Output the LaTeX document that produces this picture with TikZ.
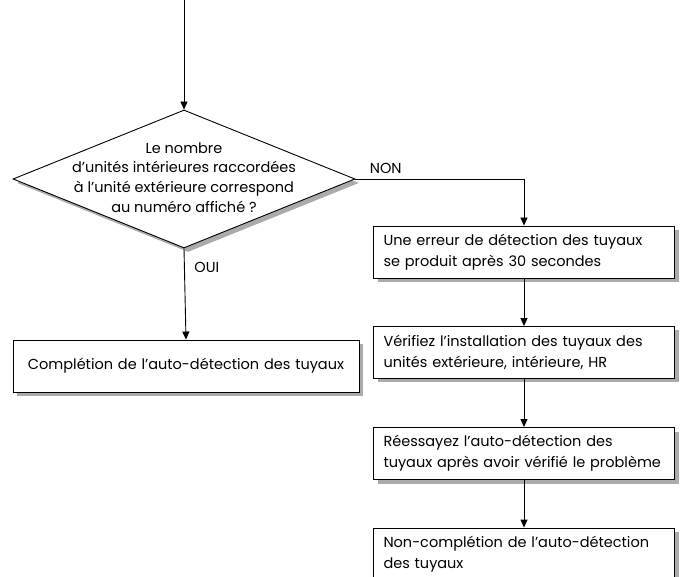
\documentclass[tikz,border=0pt]{standalone}
\usepackage{fontspec}
\setmainfont{Poppins}
\usetikzlibrary{arrows.meta,shapes.geometric}

\tikzset{
  flow/.style={line width=0.9pt,-{Triangle[width=7pt,length=8pt]}},
  boxshadow/.style={preaction={fill=black!33,transform canvas={xshift=4pt,yshift=-4pt}}},
  stepbox/.style={draw,line width=0.9pt,fill=white,boxshadow,rectangle,minimum height=52pt,
    inner xsep=10pt,font=\fontsize{14.5}{21}\selectfont},
  rightbox/.style={stepbox,minimum width=301pt,text width=281pt,align=left},
  decision/.style={draw,line width=0.9pt,fill=white,boxshadow,diamond,
    minimum width=342pt,minimum height=138pt,inner sep=0pt},
  lbl/.style={font=\fontsize{14.5}{19.8}\selectfont,inner sep=0pt}
}

\begin{document}
\begin{tikzpicture}[x=1pt,y=-1pt]
\useasboundingbox (0,0) rectangle (683,577);

%Shape: Diamond
\node[decision] (check) at (184,179) {};
\node[lbl,align=center] (checktxt) at (184,177.5) {Le nombre\\d’unités intérieures raccordées\\à l’unité extérieure correspond\\au numéro affiché ?};

%Shape: Boxes
\node[stepbox,minimum width=346pt,text width=326pt,align=center] (done) at (186,366) {Complétion de l’auto-détection des tuyaux};
\node[rightbox] (error) at (524,252) {Une erreur de détection des tuyaux\\se produit après 30 secondes};
\node[rightbox] (verify) at (524,352.5) {Vérifiez l’installation des tuyaux des\\unités extérieure, intérieure, HR};
\node[rightbox] (retry) at (524,453.5) {Réessayez l’auto-détection des\\tuyaux après avoir vérifié le problème};
\node[rightbox] (fail) at (524,554) {Non-complétion de l’auto-détection\\des tuyaux};

\coordinate (entry) at (184,0);

%Straight Lines
\draw[flow] (entry) -- (check.north);
\draw[flow] (check.south) -- node[lbl,anchor=north west,pos=0,xshift=10pt,yshift=-13pt] {OUI} (done.north);
\draw[flow] (check.east) -| node[lbl,anchor=south west,pos=0,xshift=14pt,yshift=5pt] {NON} (error.north);
\draw[flow] (error) -- (verify);
\draw[flow] (verify) -- (retry);
\draw[flow] (retry) -- (fail);

\end{tikzpicture}
\end{document}
